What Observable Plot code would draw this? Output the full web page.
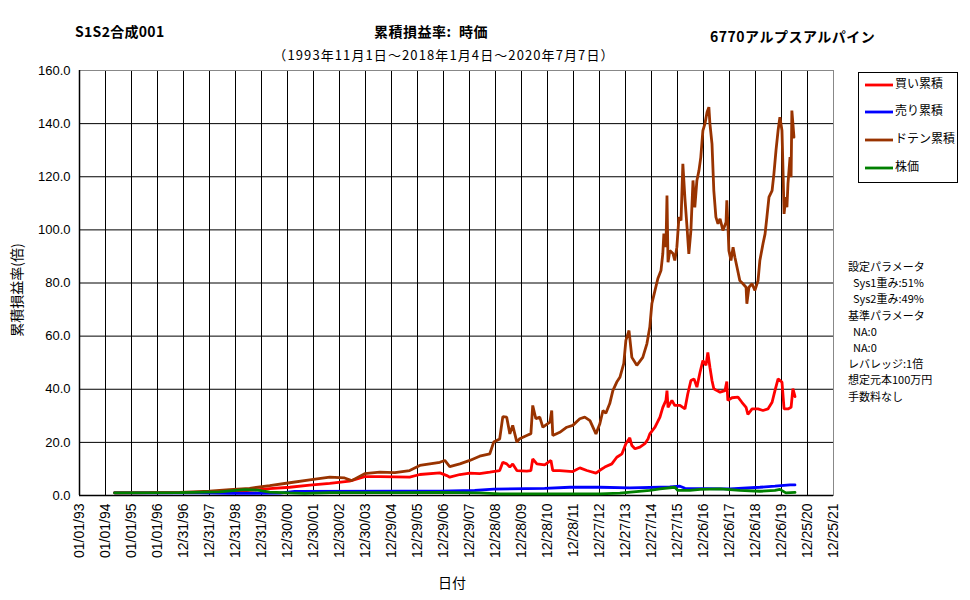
<!DOCTYPE html>
<html><head><meta charset="utf-8">
<script src="https://cdn.jsdelivr.net/npm/d3@7"></script>
<script src="https://cdn.jsdelivr.net/npm/@observablehq/plot@0.6"></script>
<style>
html,body{margin:0;padding:0;background:#fff;}
#chart{position:relative;width:970px;height:600px;}
</style></head>
<body><div id="chart"></div>
<script>
// ---- data (dates as decimal years, values in 倍) ----
const seriesNames = ["買い累積", "売り累積", "ドテン累積", "株価"];
const seriesColors = ["#ff0000", "#0000ff", "#993300", "#008000"];

const buyT = [1994.35,1996.85,1998.0,1998.96,1999.54,2000.31,2001.08,2001.85,2002.62,2003.38,2003.96,2004.54,2005.69,2006.08,2006.85,2007.12,2007.23,2007.62,2008.0,2008.38,2008.77,2009.15,2009.27,2009.42,2009.54,2009.65,2009.81,2010.19,2010.35,2010.42,2010.58,2010.88,2011.12,2011.19,2011.46,2011.96,2012.23,2012.5,2012.85,2013.0,2013.19,2013.46,2013.65,2013.85,2014.0,2014.15,2014.23,2014.35,2014.54,2014.73,2014.85,2014.92,2015.12,2015.31,2015.42,2015.54,2015.58,2015.62,2015.77,2015.88,2016.08,2016.27,2016.38,2016.5,2016.62,2016.73,2016.85,2016.96,2017.08,2017.15,2017.23,2017.31,2017.38,2017.5,2017.62,2017.81,2017.88,2017.92,2018.08,2018.31,2018.46,2018.62,2018.69,2018.85,2019.08,2019.27,2019.46,2019.62,2019.73,2019.85,2020.0,2020.08,2020.23,2020.35,2020.42,2020.5];
const buyV = [1.0,1.1,1.2,1.5,1.9,2.6,3.1,3.9,4.6,5.4,7.1,7.1,6.9,7.9,8.5,7.5,6.9,7.9,8.4,8.2,8.8,9.4,12.5,11.9,10.7,11.9,9.4,9.2,9.4,13.8,11.9,11.5,13.2,9.4,9.4,9.0,10.4,9.4,8.4,9.5,10.7,11.9,14.4,15.7,19.5,21.7,18.8,17.6,18.2,19.5,21.3,23.2,25.7,29.5,33.2,35.8,39.5,33.2,35.8,33.9,33.9,32.6,38.3,43.3,43.9,40.8,46.4,50.8,49.0,53.9,48.3,43.3,40.2,39.5,38.9,39.5,42.9,35.8,36.8,37.0,35.1,33.2,30.5,32.6,32.6,32.0,32.6,35.1,39.5,43.9,42.7,32.6,32.6,33.2,40.2,37.2];

const sellT = [1994.35,1997.62,1998.77,2000.69,2001.27,2005.31,2006.85,2008.19,2008.92,2010.88,2011.85,2013.0,2014.15,2015.69,2016.08,2016.27,2018.0,2019.15,2019.73,2020.31,2020.5];
const sellV = [1.0,1.0,0.8,0.9,1.5,1.6,1.6,1.9,2.4,2.7,3.1,3.1,2.9,3.2,3.5,2.7,2.5,3.1,3.5,4.0,4.0];

const dotenT = [1994.35,1995.69,1996.85,1998.0,1998.77,1999.54,2000.31,2001.08,2001.85,2002.62,2003.19,2003.46,2003.96,2004.54,2005.12,2005.69,2006.08,2006.85,2007.04,2007.23,2007.62,2008.0,2008.38,2008.77,2008.92,2009.15,2009.27,2009.42,2009.54,2009.65,2009.81,2009.92,2010.19,2010.35,2010.42,2010.54,2010.69,2010.81,2011.08,2011.15,2011.19,2011.46,2011.73,2011.96,2012.23,2012.42,2012.62,2012.85,2013.0,2013.12,2013.23,2013.38,2013.5,2013.65,2013.77,2013.92,2014.0,2014.12,2014.23,2014.42,2014.65,2014.81,2014.92,2015.0,2015.12,2015.23,2015.35,2015.42,2015.46,2015.54,2015.58,2015.62,2015.69,2015.81,2015.88,2015.96,2016.04,2016.12,2016.19,2016.27,2016.35,2016.42,2016.5,2016.58,2016.65,2016.73,2016.81,2016.88,2016.96,2017.04,2017.12,2017.19,2017.23,2017.31,2017.38,2017.46,2017.54,2017.62,2017.73,2017.85,2017.88,2017.92,2017.96,2018.04,2018.12,2018.19,2018.27,2018.38,2018.5,2018.62,2018.65,2018.73,2018.85,2018.96,2019.08,2019.15,2019.27,2019.35,2019.42,2019.5,2019.62,2019.69,2019.77,2019.85,2019.92,2020.0,2020.04,2020.08,2020.15,2020.19,2020.23,2020.31,2020.35,2020.38,2020.42,2020.46];
const dotenV = [1.0,1.1,1.2,1.6,2.2,2.7,3.7,4.8,5.9,6.9,6.6,5.6,8.2,8.8,8.6,9.4,11.3,12.5,13.2,10.9,11.9,13.2,14.8,15.7,20.1,21.3,29.7,29.5,23.2,26.4,20.1,21.4,22.6,23.3,33.9,28.9,29.5,25.7,27.6,32.0,22.6,23.8,25.7,26.4,28.9,29.5,28.2,23.2,27.0,32.0,31.0,34.6,39.5,42.7,44.5,49.7,58.4,62.1,52.0,49.0,52.0,57.2,63.4,72.3,77.2,81.7,84.7,91.1,98.6,93.5,112.9,87.8,92.2,91.1,88.5,93.5,104.8,103.5,124.9,111.8,101.0,91.0,99.8,118.6,108.5,118.6,122.4,127.4,137.4,140.0,144.3,146.2,140.0,132.4,114.8,104.8,102.3,104.2,99.8,102.9,111.1,102.3,92.2,88.5,93.5,89.7,86.0,80.9,79.7,78.4,72.2,78.4,79.7,77.2,80.9,88.5,94.8,98.5,104.8,112.3,114.8,121.1,129.9,137.4,142.4,137.4,122.4,106.0,112.3,108.5,117.3,127.4,119.8,144.9,140.0,134.9];

const priceT = [1994.35,1996.85,1998.38,1999.35,1999.85,2000.31,2001.08,2001.65,2002.62,2005.31,2006.85,2008.38,2009.15,2011.46,2013.0,2013.77,2014.92,2015.31,2015.88,2016.0,2016.46,2016.85,2017.62,2018.38,2019.15,2019.73,2019.92,2020.15,2020.5];
const priceV = [1.0,1.1,1.4,2.2,2.0,1.3,1.0,0.8,1.1,1.1,1.2,1.0,0.6,0.6,0.6,0.9,1.9,2.5,3.1,1.9,1.9,2.3,2.5,1.9,1.6,1.9,2.3,1.0,1.2];

const yTicks = [0,20,40,60,80,100,120,140,160];
const paramLines = ["設定パラメータ","  Sys1重み:51%","  Sys2重み:49%","基準パラメータ","  NA:0","  NA:0","レバレッジ:1倍","想定元本100万円","手数料なし"];

// ---- build ----
const DAY = 864e5;
const t0 = Date.UTC(1993,0,1);
const toDate = y => new Date(t0 + (y - 1993) * 365.25 * DAY);
const xTicks = d3.range(30).map(i => new Date(t0 + i * 365 * DAY));
const fmt = d3.utcFormat("%m/%d/%y");

const rows = [];
[[buyT,buyV],[sellT,sellV],[dotenT,dotenV],[priceT,priceV]].forEach(([T,V],k) => {
  T.forEach((t,i) => rows.push({date: toDate(t), value: V[i], s: seriesNames[k]}));
});

const jp = "'Noto Sans CJK JP', 'Noto Sans', sans-serif";
const lat = "'Liberation Sans', Arial, sans-serif";

const plot = Plot.plot({
  width: 970, height: 600,
  marginLeft: 79, marginRight: 137, marginTop: 70, marginBottom: 105,
  style: {fontFamily: lat, fontSize: "13px", color: "#000", background: "#fff"},
  x: {type: "utc", domain: [xTicks[0], xTicks[29]]},
  y: {domain: [0,160]},
  color: {domain: seriesNames, range: seriesColors},
  marks: [
    Plot.gridX(xTicks, {stroke: "#000", strokeOpacity: 1, strokeWidth: 1}),
    Plot.gridY(yTicks, {stroke: "#000", strokeOpacity: 1, strokeWidth: 1}),
    Plot.frame({stroke: "#888"}),
    Plot.ruleY([0], {stroke: "#000", strokeWidth: 1.5}),
    Plot.ruleX([xTicks[0]], {stroke: "#000", strokeWidth: 1.5}),
    ...seriesNames.map(n => Plot.line(rows.filter(r => r.s === n), {x: "date", y: "value", stroke: "s", strokeWidth: 2.8, strokeLinejoin: "miter"})),
    Plot.axisX(xTicks, {tickSize: 0, tickPadding: 8, tickRotate: -90, tickFormat: fmt, label: null, fontSize: 14}),
    Plot.axisY(yTicks, {tickSize: 0, tickPadding: 9, tickFormat: d => d.toFixed(1), label: null, fontSize: 13})
  ]
});
document.getElementById("chart").appendChild(plot);

const svg = d3.select(plot);
const addText = (x, y, txt, o = {}) => svg.append("text")
  .attr("x", x).attr("y", y).attr("dominant-baseline", "middle")
  .attr("text-anchor", o.anchor || "start")
  .attr("font-family", o.font || jp).attr("font-size", o.size || 13)
  .attr("font-weight", o.weight || "normal")
  .attr("letter-spacing", o.ls || null)
  .attr("transform", o.rotate ? `rotate(${o.rotate},${x},${y})` : null)
  .attr("fill", "#000").style("white-space", "pre").text(txt);

addText(75, 33, "S1S2合成001", {weight: 600, size: 14, ls: 0.3});
addText(431, 33, "累積損益率:  時価", {anchor: "middle", weight: 600, size: 14, ls: 0.5});
addText(710, 38, "6770アルプスアルパイン", {weight: 600, size: 14, ls: 0.5});
addText(444, 56, "（1993年11月1日～2018年1月4日～2020年7月7日）", {anchor: "middle", size: 13, ls: 1.1});
addText(452, 584, "日付", {anchor: "middle", size: 14});
addText(18, 290, "累積損益率(倍)", {anchor: "middle", size: 14, rotate: -90});

// legend
svg.append("rect").attr("x", 858.5).attr("y", 72.5).attr("width", 99).attr("height", 110)
  .attr("fill", "#fff").attr("stroke", "#000").attr("stroke-width", 1);
const legY = [85, 112, 140, 168];
seriesNames.forEach((n, i) => {
  svg.append("line").attr("x1", 865).attr("x2", 893).attr("y1", legY[i]).attr("y2", legY[i])
    .attr("stroke", seriesColors[i]).attr("stroke-width", 2.8);
  addText(895, legY[i], n, {size: 12});
});

// parameters
paramLines.forEach((t, i) => addText(848, 268 + i * 16.2, t, {size: 11}));
</script></body></html>
